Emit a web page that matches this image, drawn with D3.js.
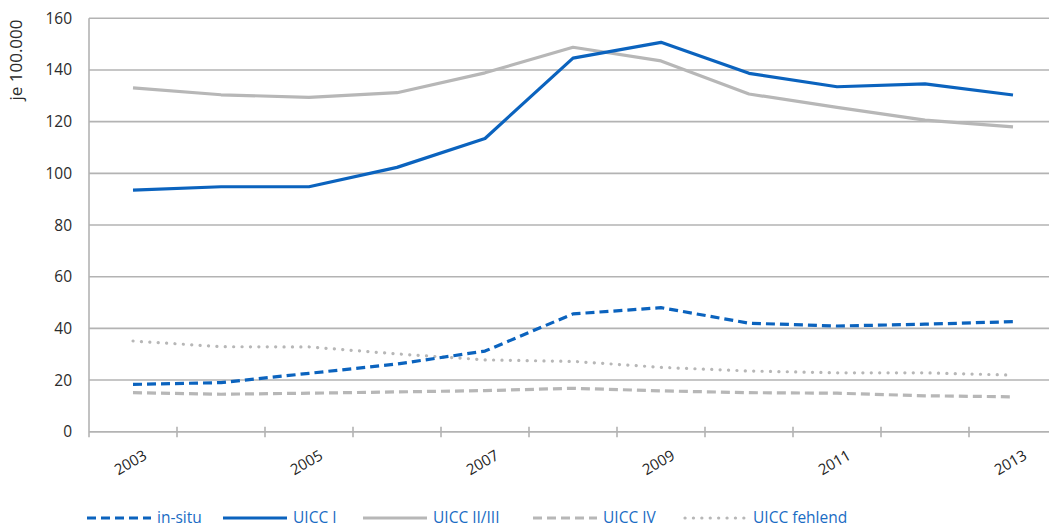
<!DOCTYPE html>
<html>
<head>
<meta charset="utf-8">
<script src="https://cdn.jsdelivr.net/npm/d3@7"></script>
<style>
	body { margin: 0; background: #fff; }
	svg { display: block; font-family: "Open Sans", sans-serif; }
</style>
</head>
<body>
<svg id="chart" width="1049" height="528"></svg>
<script>
	const years = [2003, 2004, 2005, 2006, 2007, 2008, 2009, 2010, 2011, 2012, 2013];
	const labelYears = [2003, 2005, 2007, 2009, 2011, 2013];
	const yTicks = [0, 20, 40, 60, 80, 100, 120, 140, 160];

	const inSitu = [18.3, 19.0, 22.6, 26.2, 31.2, 45.6, 48.0, 42.0, 40.9, 41.6, 42.6];
	const uicc1 = [93.5, 94.8, 94.8, 102.3, 113.5, 144.6, 150.7, 138.7, 133.5, 134.6, 130.3];
	const uicc23 = [133.1, 130.4, 129.4, 131.2, 138.9, 148.8, 143.5, 130.7, 125.5, 120.6, 118.0];
	const uicc4 = [15.1, 14.5, 14.9, 15.4, 15.9, 16.8, 15.8, 15.1, 14.9, 13.9, 13.5];
	const uiccMissing = [35.1, 32.9, 32.8, 30.1, 27.8, 27.2, 24.9, 23.5, 22.8, 22.8, 21.9];

	const seriesNames = ["in-situ", "UICC I", "UICC II/III", "UICC IV", "UICC fehlend"];

	(function() {
		const blue = "#0b63be";
		const grey = "#b7b7b7";
		const gridColor = "#b3b3b3";

		let svg = d3.select("#chart"),
			left = 89,
			right = 1057,
			top = 18.3,
			bottom = 431.7;

		let x = d3.scaleBand()
			.domain(years)
			.range([left, right])
			.padding(0);

		let y = d3.scaleLinear()
			.domain([0, 160])
			.range([bottom, top]);

		let cx = function(yr) { return x(yr) + x.bandwidth() / 2; };

		// horizontal grid lines
		svg.append("g")
			.selectAll("line")
			.data(yTicks)
			.enter()
			.append("line")
			.attr("x1", left)
			.attr("x2", 1049)
			.attr("y1", d => y(d))
			.attr("y2", d => y(d))
			.attr("stroke", gridColor)
			.attr("stroke-width", 1.6);

		// y axis line
		svg.append("line")
			.attr("x1", left).attr("x2", left)
			.attr("y1", top).attr("y2", bottom + 5.5)
			.attr("stroke", gridColor)
			.attr("stroke-width", 1.6);

		// y labels
		svg.append("g")
			.selectAll("text")
			.data(yTicks)
			.enter()
			.append("text")
			.attr("x", 72)
			.attr("y", d => y(d) + 5.5)
			.attr("text-anchor", "end")
			.style("font-size", "15.5px")
			.style("fill", "#2b2b2b")
			.text(d => d);

		svg.append("text")
			.attr("transform", "translate(22,60) rotate(-90)")
			.attr("text-anchor", "middle")
			.style("font-size", "17px")
			.style("fill", "#2b2b2b")
			.text("je 100.000");

		// x axis line + cross ticks at band edges
		svg.append("line")
			.attr("x1", left).attr("x2", 1049)
			.attr("y1", bottom).attr("y2", bottom)
			.attr("stroke", gridColor)
			.attr("stroke-width", 1.6);

		svg.append("g")
			.selectAll("line")
			.data(years.slice(1))
			.enter()
			.append("line")
			.attr("x1", d => x(d))
			.attr("x2", d => x(d))
			.attr("y1", bottom - 5)
			.attr("y2", bottom + 5.5)
			.attr("stroke", gridColor)
			.attr("stroke-width", 1.6);

		// x labels, rotated
		svg.append("g")
			.selectAll("text")
			.data(labelYears)
			.enter()
			.append("text")
			.attr("transform", d => "translate(" + cx(d) + ",467) rotate(-30)")
			.attr("text-anchor", "middle")
			.style("font-size", "15px")
			.style("fill", "#1e1e1e")
			.text(d => d);

		// series
		let series = [
			{ name: seriesNames[0], values: inSitu, color: blue, dash: "9 5", cap: "butt" },
			{ name: seriesNames[1], values: uicc1, color: blue, dash: null, cap: "butt" },
			{ name: seriesNames[2], values: uicc23, color: grey, dash: null, cap: "butt" },
			{ name: seriesNames[3], values: uicc4, color: grey, dash: "9 5", cap: "butt" },
			{ name: seriesNames[4], values: uiccMissing, color: grey, dash: "0.1 8.3", cap: "round" }
		];

		let line = d3.line()
			.x((d, i) => cx(years[i]))
			.y(d => y(d));

		// draw grey ones first so the blue sits on top
		let drawOrder = [4, 3, 2, 0, 1];
		drawOrder.forEach(function(k) {
			let s = series[k];
			svg.append("path")
				.datum(s.values)
				.attr("d", line)
				.attr("fill", "none")
				.attr("stroke", s.color)
				.attr("stroke-width", 3.2)
				.attr("stroke-linecap", s.cap)
				.attr("stroke-linejoin", "round")
				.attr("stroke-dasharray", s.dash);
		});

		// legend
		let legendX = [87, 223, 363, 533, 683];
		let legendY = 518;
		let legend = svg.append("g")
			.selectAll("g")
			.data(series)
			.enter()
			.append("g")
			.attr("transform", (d, i) => "translate(" + legendX[i] + "," + legendY + ")");

		legend.append("line")
			.attr("x1", d => d.cap == "round" ? 2 : 0)
			.attr("x2", 64)
			.attr("stroke", d => d.color)
			.attr("stroke-width", 3.2)
			.attr("stroke-linecap", d => d.cap)
			.attr("stroke-dasharray", d => d.dash);

		legend.append("text")
			.attr("x", 70)
			.attr("y", 5.3)
			.style("font-size", "15.5px")
			.style("fill", "#1a6cc4")
			.text(d => d.name);
	})();
</script>
</body>
</html>
